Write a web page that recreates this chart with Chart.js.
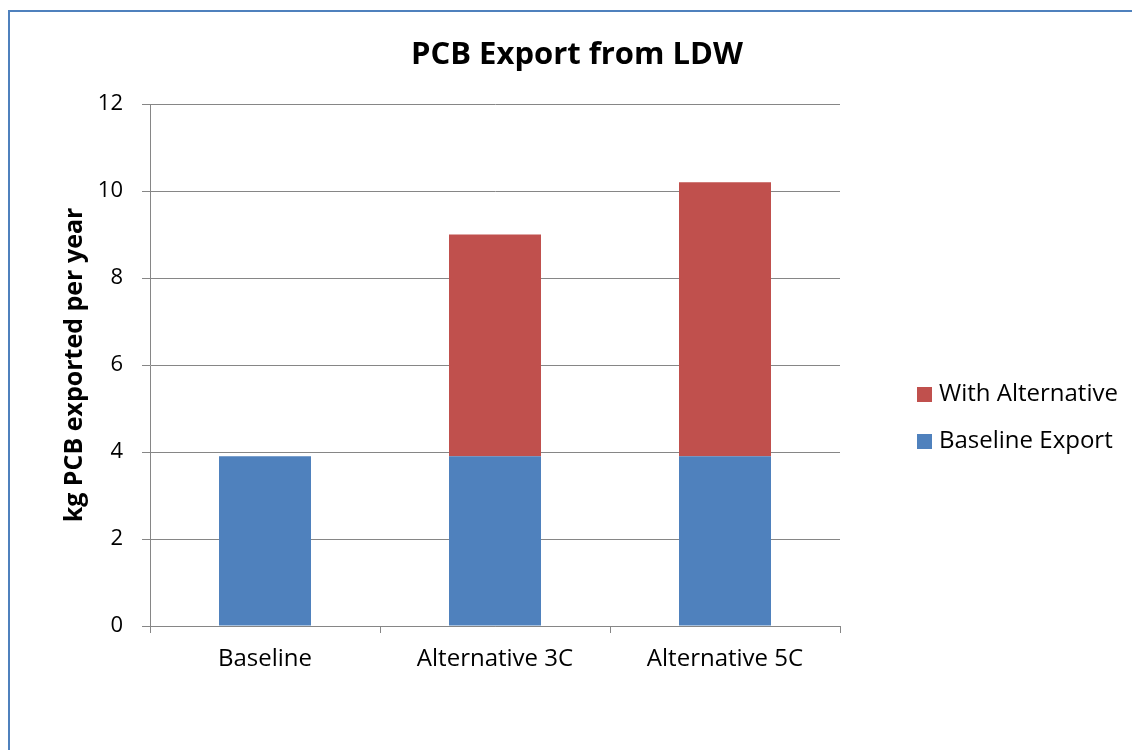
<!DOCTYPE html>
<html>
<head>
<meta charset="utf-8">
<title>PCB Export from LDW</title>
<script src="https://cdn.jsdelivr.net/npm/chart.js@4.4.1/dist/chart.umd.min.js"></script>
<style>
  html, body { margin: 0; padding: 0; background: #ffffff; width: 1132px; height: 750px; overflow: hidden; }
  #frame {
    position: absolute; left: 8px; top: 10px; right: -20px; bottom: -20px;
    border-left: 2px solid #4F81BD; border-top: 2px solid #4F81BD;
  }
  #chart { position: absolute; left: 0; top: 0; }
</style>
</head>
<body>
<div id="frame"></div>
<canvas id="chart" width="1132" height="750"></canvas>
<script>
// Scenarios on the category axis
const categories = ['Baseline', 'Alternative 3C', 'Alternative 5C'];

// kg PCB exported per year, stacked
const baselineExport = [3.9, 3.9, 3.9];
const withAlternative = [null, 5.1, 6.3];

// Value axis
const yMin = 0;
const yMax = 12;
const yStep = 2;

const seriesNames = ['Baseline Export', 'With Alternative'];
const seriesColors = ['#4F81BD', '#C0504D'];

const FONT = '"Open Sans"';
const GRID = '#868686';

// Legend drawn inside its own layout box on the right of the plot,
// listed top-down in reverse stacking order.
function drawSideLegend(chart, box, opts) {
  const { ctx, chartArea } = chart;
  const items = chart.data.datasets
    .map(ds => ({ text: ds.label, color: ds.backgroundColor }))
    .reverse();
  const x0 = box.left + opts.offsetX;
  const midY = (chartArea.top + chartArea.bottom) / 2 + opts.offsetY;
  ctx.save();
  ctx.font = `${opts.size}px ${opts.family}`;
  ctx.textBaseline = 'middle';
  ctx.textAlign = 'left';
  items.forEach((item, i) => {
    const cy = midY + (i - (items.length - 1) / 2) * opts.rowGap;
    ctx.fillStyle = item.color;
    ctx.fillRect(x0, Math.round(cy - opts.box / 2), opts.box, opts.box);
    ctx.fillStyle = opts.color;
    ctx.fillText(item.text, x0 + opts.box + opts.gap, cy);
  });
  ctx.restore();
}

const sideLegend = {
  id: 'sideLegend',
  start(chart, args, opts) {
    const box = {
      position: 'right',
      weight: 0,
      fullSize: false,
      options: {},
      left: 0, top: 0, right: 0, bottom: 0, width: 0, height: 0,
      isHorizontal() { return false; },
      update(maxWidth, maxHeight) { this.width = opts.width; this.height = maxHeight; },
      draw() { drawSideLegend(chart, this, opts); }
    };
    chart.$sideLegendBox = box;
    Chart.layouts.addBox(chart, box);
  },
  stop(chart) {
    Chart.layouts.removeBox(chart, chart.$sideLegendBox);
    delete chart.$sideLegendBox;
  }
};

function draw() {
  new Chart(document.getElementById('chart'), {
    type: 'bar',
    data: {
      labels: categories,
      datasets: [
        { label: seriesNames[0], data: baselineExport, backgroundColor: seriesColors[0], borderWidth: 0 },
        { label: seriesNames[1], data: withAlternative, backgroundColor: seriesColors[1], borderWidth: 0 }
      ]
    },
    options: {
      responsive: false,
      animation: false,
      devicePixelRatio: 1,
      layout: { padding: { top: 0, left: 22, right: 0, bottom: 0 } },
      datasets: { bar: { barPercentage: 0.4, categoryPercentage: 1.0 } },
      plugins: {
        legend: { display: false },
        tooltip: { enabled: false },
        title: {
          display: true,
          text: 'PCB Export from LDW',
          color: '#000000',
          font: { family: FONT, size: 31, weight: 'bold' },
          padding: { top: 37, bottom: 29.8 }
        },
        sideLegend: {
          width: 292,
          family: FONT, size: 24, color: '#000000',
          box: 15, gap: 7, rowGap: 47, offsetX: 77, offsetY: 53
        }
      },
      scales: {
        x: {
          stacked: true,
          offset: true,
          grid: {
            display: true, drawOnChartArea: false, offset: true,
            color: GRID, lineWidth: 1, tickLength: 7
          },
          border: { display: true, color: GRID, width: 1 },
          ticks: { color: '#000000', font: { family: FONT, size: 24 }, padding: 12, maxRotation: 0 },
          afterFit(scale) { scale.height = 124; }
        },
        y: {
          stacked: true,
          min: yMin,
          max: yMax,
          grid: { color: GRID, lineWidth: 1, tickLength: 8 },
          border: { display: true, color: GRID, width: 1 },
          ticks: { stepSize: yStep, color: '#000000', font: { family: FONT, size: 22 }, padding: 19 },
          title: {
            display: true,
            text: 'kg PCB exported per year',
            color: '#000000',
            font: { family: FONT, size: 25, weight: 'bold' },
            padding: { top: 38, bottom: 0 }
          },
          afterFit(scale) { scale.width = 128; }
        }
      }
    },
    plugins: [sideLegend]
  });
}

Promise.all([
  document.fonts.load(`22px ${FONT}`),
  document.fonts.load(`bold 31px ${FONT}`)
]).then(draw, draw);
</script>
</body>
</html>
